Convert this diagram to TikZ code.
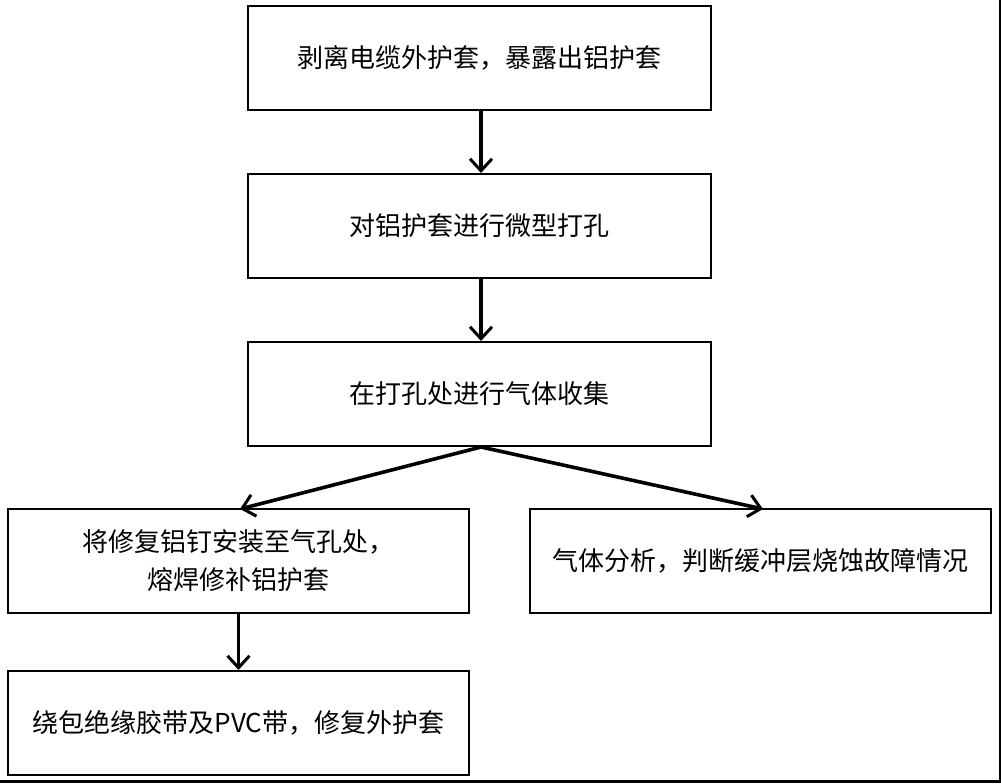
\documentclass[tikz,border=0pt]{standalone}
\usepackage{fontspec}
\setmainfont{Noto Sans CJK SC}
\usetikzlibrary{arrows.meta}
\begin{document}
\begin{tikzpicture}[x=0.5pt,y=-0.5pt,
  stepbox/.style={draw=black,line width=1pt,minimum width=231.5pt,minimum height=52pt,inner sep=0pt,align=center,font=\fontsize{13}{19}\selectfont},
  conn/.style={line width=1.8pt,-{Straight Barb[length=6pt,width=11pt,line width=1.5pt]}}]
\fill[white] (0,0) rectangle (1001,783);
\useasboundingbox (0,0) rectangle (1001,783);
\draw[line width=1.5pt] (1000,0) -- (1000,783);
\draw[line width=1.5pt] (0,781.5) -- (1001,781.5);
\node[stepbox] (a) at (479.5,58) {剥离电缆外护套，暴露出铝护套};
\node[stepbox] (b) at (479.5,226) {对铝护套进行微型打孔};
\node[stepbox] (c) at (479.5,394) {在打孔处进行气体收集};
\node[stepbox,minimum width=230.5pt] (d) at (238.5,561) {将修复铝钉安装至气孔处，\\熔焊修补铝护套};
\node[stepbox,minimum width=230.5pt] (e) at (760.5,561) {气体分析，判断缓冲层烧蚀故障情况};
\node[stepbox,minimum width=230.5pt] (f) at (238.5,723) {绕包绝缘胶带及PVC带，修复外护套};
\draw[conn] (a.south -| 481,0) -- (b.north -| 481,0);
\draw[conn] (b.south -| 481,0) -- (c.north -| 481,0);
\draw[conn] (c.south -| 481,0) -- (240,509);
\draw[conn] (c.south -| 481,0) -- (763,509);
\draw[conn] (d.south) -- (f.north);
\end{tikzpicture}
\end{document}
